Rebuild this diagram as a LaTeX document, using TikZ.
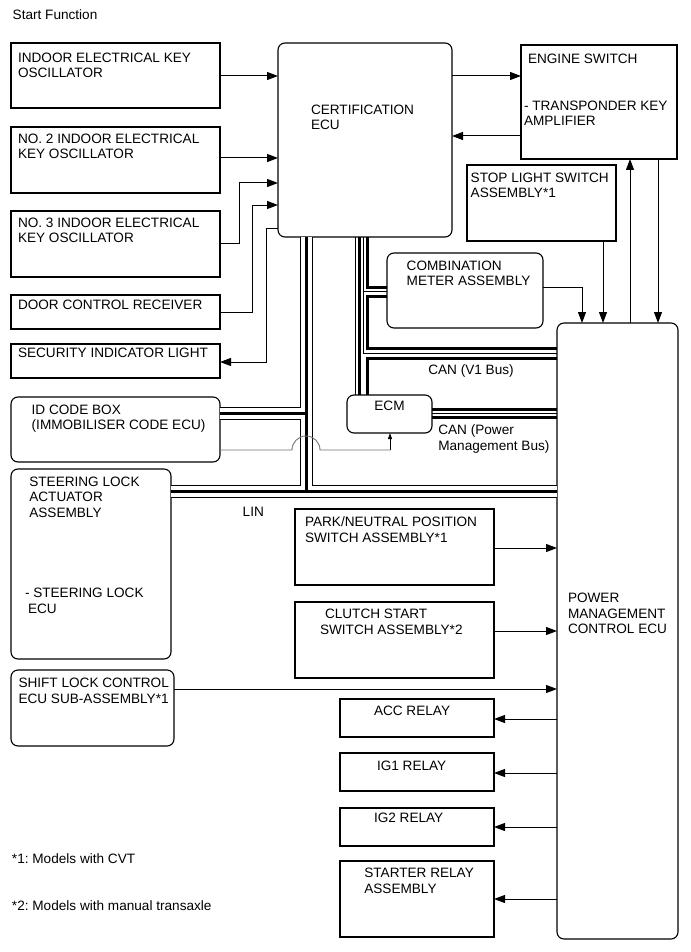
\documentclass[tikz,border=0pt]{standalone}
\usepackage{fontspec}
\setmainfont{Liberation Sans}
\usetikzlibrary{arrows.meta}
\frenchspacing
\newcommand\mybox[6][box]{\node[#1, minimum width={(#5-#3)*1pt}, minimum height={(#6-#4)*1pt}] (#2) at ({(#3+#5)/2},{(#4+#6)/2}) {};}
\begin{document}
\begin{tikzpicture}[x=1pt,y=-1pt,
  box/.style={draw, line width=1.1pt, inner sep=0pt, outer sep=0pt},
  rbox/.style={box, rounded corners=7pt},
  txt/.style={inner sep=0pt, outer sep=0pt, anchor=north west, align=left, font=\fontsize{13.6}{15.5}\selectfont},
  arr/.style={line width=1pt, -{Triangle[length=11pt,width=8pt]}},
  thinb/.style={line width=1pt},
  thickb/.style={line width=3pt},
  pipeA/.style={line width=13pt, black},
  pipeB/.style={line width=11pt, white},
  pipeC/.style={line width=3pt, black}]
\useasboundingbox (0,0) rectangle (690,952);
\fill[white] (0,0) rectangle (690,952);

\node[txt] (title) at (12.7,9.3) {Start Function};

% boxes
\mybox{b1}{11}{43}{220}{108}
\mybox{b2}{11}{127}{220}{193}
\mybox{b3}{11}{211}{220}{277}
\mybox{door}{11}{295}{220}{329}
\mybox{sec}{11}{344}{220}{378}
\mybox[rbox]{cert}{278}{43}{452}{237}
\mybox{eng}{521}{45}{677}{159}
\mybox{stop}{467}{165}{616}{241}
\mybox[rbox]{comb}{387}{253}{543}{328}
\mybox[rbox]{pm}{557}{323}{678}{939}
\mybox[rbox]{ecm}{347}{395}{432}{433}
\mybox[rbox]{idb}{11}{397}{220}{462}
\mybox[rbox]{stl}{11}{469}{171}{659}
\mybox{park}{295}{509}{494}{585}
\mybox{clutch}{295}{602}{494}{678}
\mybox[rbox]{shift}{11}{670}{174}{746}
\mybox{acc}{340}{699}{494}{737}
\mybox{ig1}{340}{753}{494}{791}
\mybox{ig2}{340}{808}{494}{846}
\mybox{starter}{340}{861}{494}{937}

% texts
\node[txt] at (18,53) {INDOOR ELECTRICAL KEY\\OSCILLATOR};
\node[txt] at (18,134) {NO. 2 INDOOR ELECTRICAL\\KEY OSCILLATOR};
\node[txt] at (18,218) {NO. 3 INDOOR ELECTRICAL\\KEY OSCILLATOR};
\node[txt] at (18,300) {DOOR CONTROL RECEIVER};
\node[txt] at (18,348) {SECURITY INDICATOR LIGHT};
\node[txt] at (311,105) {CERTIFICATION\\ECU};
\node[txt] at (528,54) {ENGINE SWITCH};
\node[txt] at (524,101) {- TRANSPONDER KEY\\AMPLIFIER};
\node[txt] at (470.7,173) {STOP LIGHT SWITCH\\ASSEMBLY*1};
\node[txt] at (406.7,261) {COMBINATION\\METER ASSEMBLY};
\node[txt, anchor=north] at (389.5,400.7) {ECM};
\node[txt] at (428.3,364.3) {CAN (V1 Bus)};
\node[txt] at (438.3,425) {CAN (Power\\Management Bus)};
\node[txt] at (31.7,405) {ID CODE BOX\\(IMMOBILISER CODE ECU)};
\node[txt] at (29.3,476.7) {STEERING LOCK\\ACTUATOR\\ASSEMBLY};
\node[txt] at (25,588) {- STEERING LOCK};
\node[txt] at (28,604) {ECU};
\node[txt] at (242.7,506.7) {LIN};
\node[txt] at (305,517) {PARK/NEUTRAL POSITION\\SWITCH ASSEMBLY*1};
\node[txt] at (325,609) {CLUTCH START};
\node[txt] at (320,625) {SWITCH ASSEMBLY*2};
\node[txt] at (568,593) {POWER\\MANAGEMENT\\CONTROL ECU};
\node[txt] at (18.5,678.3) {SHIFT LOCK CONTROL\\ECU SUB-ASSEMBLY*1};
\node[txt] at (374,706) {ACC RELAY};
\node[txt] at (377,760.7) {IG1 RELAY};
\node[txt] at (374,813.3) {IG2 RELAY};
\node[txt] at (364.3,868.3) {STARTER RELAY\\ASSEMBLY};
\node[txt] at (12,854) {*1: Models with CVT};
\node[txt] at (12,901) {*2: Models with manual transaxle};

% signal arrows
\draw[arr] (b1.east |- 0,76) -- (cert.west |- 0,76);
\draw[arr] (b2.east |- 0,158) -- (cert.west |- 0,158);
\draw[arr] (b3.east |- 0,243) -- (239,243) -- (239,183) -- (cert.west |- 0,183);
\draw[arr] (door.east |- 0,312) -- (252,312) -- (252,205) -- (cert.west |- 0,205);
\draw[arr] (cert.west |- 0,228) -- (266,228) -- (266,362) -- (sec.east |- 0,362);
\draw[arr] (cert.east |- 0,76) -- (eng.west |- 0,76);
\draw[arr] (eng.west |- 0,136) -- (cert.east |- 0,136);
\draw[arr] (stop.south -| 603,0) -- (pm.north -| 603,0);
\draw[arr] (pm.north -| 630,0) -- (eng.south -| 630,0);
\draw[arr] (eng.south -| 658,0) -- (pm.north -| 658,0);
\draw[arr] (comb.east |- 0,287) -- (582,287) -- (pm.north -| 582,0);
\draw[arr] (park.east |- 0,548) -- (pm.west |- 0,548);
\draw[arr] (clutch.east |- 0,631) -- (pm.west |- 0,631);
\draw[arr] (shift.east |- 0,689) -- (pm.west |- 0,689);
\draw[arr] (pm.west |- 0,719) -- (acc.east |- 0,719);
\draw[arr] (pm.west |- 0,773) -- (ig1.east |- 0,773);
\draw[arr] (pm.west |- 0,827) -- (ig2.east |- 0,827);
\draw[arr] (pm.west |- 0,899) -- (starter.east |- 0,899);

% LIN pipe
\foreach \s in {pipeA,pipeB,pipeC}{
  \draw[\s] (cert.south -| 306,0) -- (306,491);
  \draw[\s] (idb.east |- 0,413) -- (306,413);
  \draw[\s] (stl.east |- 0,491) -- (pm.west |- 0,491);
}

% CAN V1 bus
\draw[thinb] (cert.south -| 355,0) -- (ecm.north -| 355,0);
\draw[thickb] (cert.south -| 359,0) -- (ecm.north -| 359,0);
\draw[thinb] (cert.south -| 363,0) -- (363,353) -- (pm.west |- 0,353);
\draw[thinb] (363,291) -- (comb.west |- 0,291);
\draw[thickb] (cert.south -| 367,0) -- (367,287) -- (comb.west |- 0,287);
\draw[thickb] (comb.west |- 0,296) -- (367,296) -- (367,348) -- (pm.west |- 0,348);
\draw[thickb] (pm.west |- 0,358) -- (367,358) -- (ecm.north -| 367,0);

% CAN power management bus
\draw[thickb] (ecm.east |- 0,409) -- (pm.west |- 0,409);
\draw[thinb] (ecm.east |- 0,413.5) -- (pm.west |- 0,413.5);
\draw[thickb] (ecm.east |- 0,417.5) -- (pm.west |- 0,417.5);

% immobiliser line
\draw[black!55, line width=0.9pt] (idb.east |- 0,450) -- (292,450) arc[start angle=180, end angle=360, radius=14] -- (390,450);
\draw[line width=0.9pt, -{Triangle[length=6pt,width=4pt]}] (390,450.4) -- (ecm.south -| 390,0);
\end{tikzpicture}
\end{document}
